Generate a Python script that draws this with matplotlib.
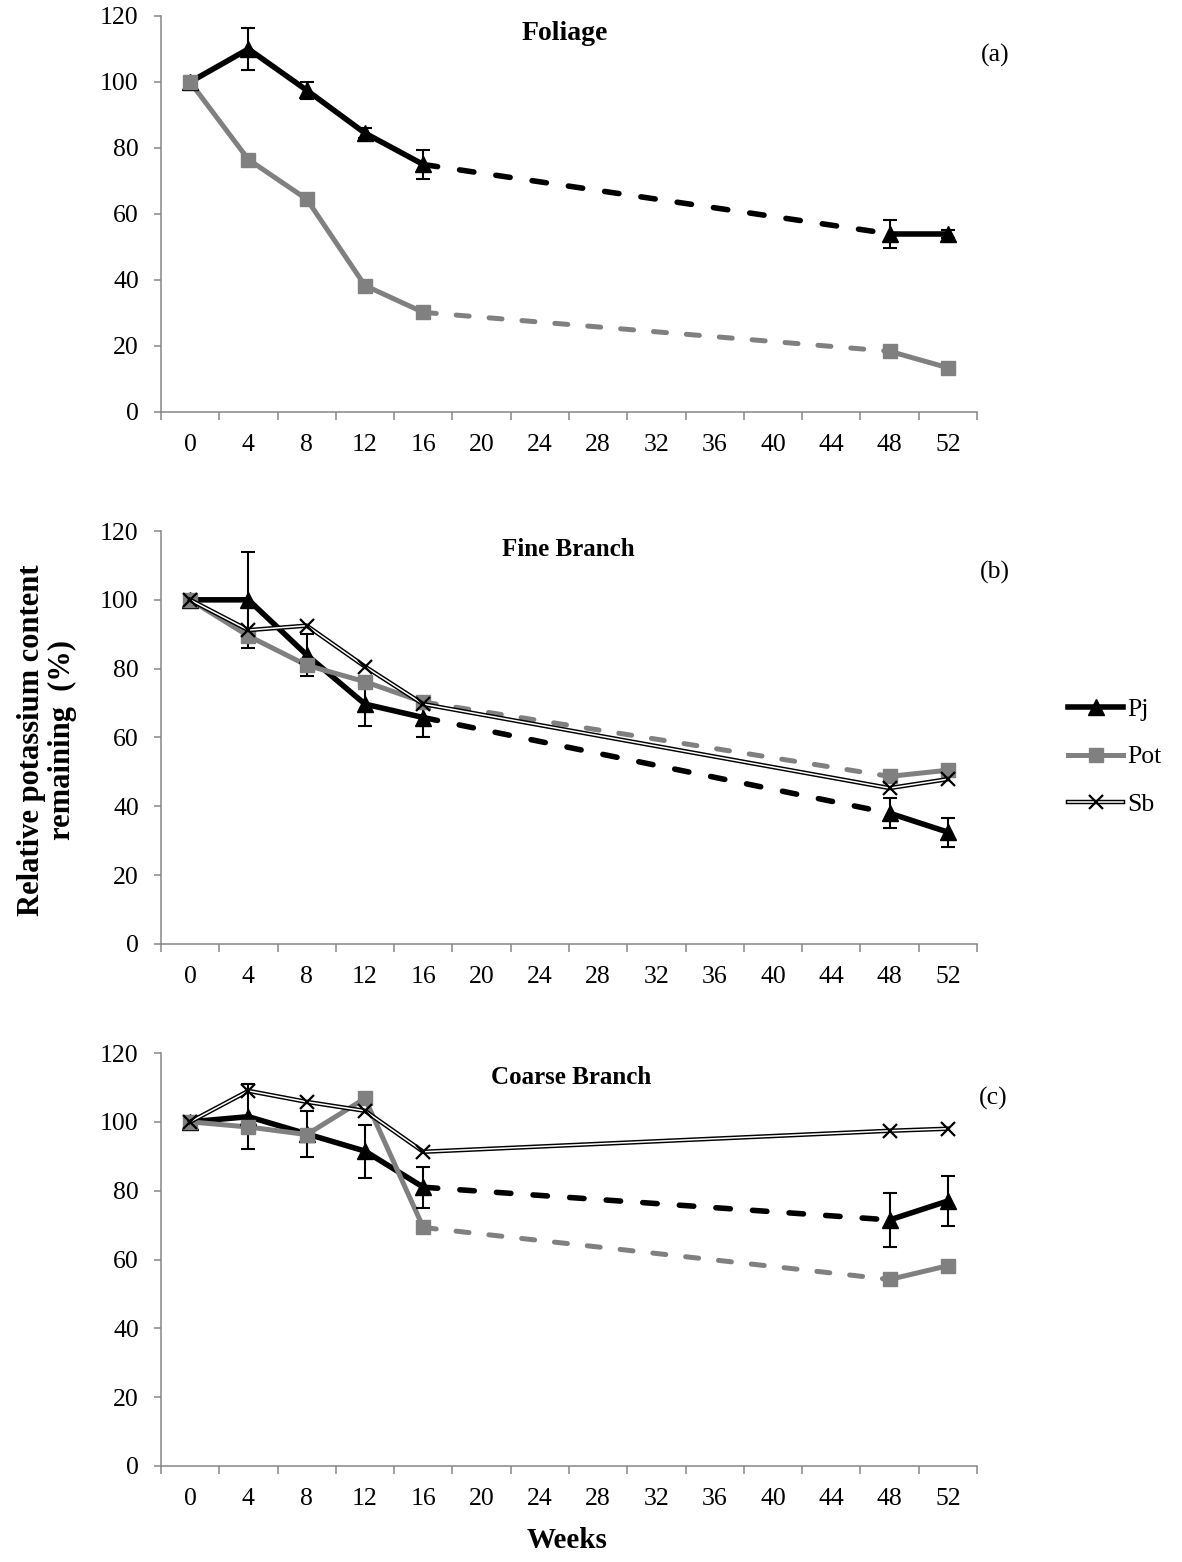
import numpy as np
import matplotlib
matplotlib.use("Agg")
import matplotlib.pyplot as plt
from matplotlib.lines import Line2D

plt.rcParams['font.family'] = ['Liberation Serif', 'DejaVu Serif']

# sampling weeks and category labels of the x axis
weeks = [0, 4, 8, 12, 16, 48, 52]
cat_labels = [0, 4, 8, 12, 16, 20, 24, 28, 32, 36, 40, 44, 48, 52]

# (a) Foliage
fol_pj = [100, 110, 97.5, 84.5, 75, 54, 54]
fol_pj_err = [0, 6.3, 2.6, 1.5, 4.5, 4.2, 1.2]
fol_pot = [100, 76.5, 64.5, 38.3, 30.2, 18.4, 13.4]

# (b) Fine branch
fine_pj = [100, 100, 84, 69.7, 65.8, 38, 32.5]
fine_pj_err = [0, 14, 6, 6.3, 5.6, 4.3, 4.2]
fine_pot = [100, 89.5, 81, 76.2, 70.3, 48.7, 50.5]
fine_sb = [100, 91.2, 92.5, 80.6, 69.7, 45.3, 47.9]

# (c) Coarse branch
coarse_pj = [100, 101.5, 96.5, 91.5, 81, 71.5, 77]
coarse_pj_err = [0, 9.5, 6.7, 7.7, 6, 7.8, 7.2]
coarse_pot = [100, 98.5, 96.3, 106.8, 69.3, 54.2, 58.2]
coarse_sb = [100, 109, 105.8, 103.2, 91.3, 97.4, 98]

GRAY = '#808080'
AXGRAY = '#868686'
DASH = (0, (2.6, 4.0))


def draw_series(ax, y, color, lw, marker, ms, err=None):
    w = np.array(weeks)
    y = np.array(y)
    # solid until week 16, dashed gap to week 48, solid after
    ax.plot(w[:5], y[:5], color=color, lw=lw, solid_capstyle='round', zorder=3)
    ax.plot(w[4:6], y[4:6], color=color, lw=lw, linestyle=DASH,
            dash_capstyle='round', zorder=3)
    ax.plot(w[5:], y[5:], color=color, lw=lw, solid_capstyle='round', zorder=3)
    if err is not None:
        e = np.array(err)
        m = e > 0
        ax.errorbar(w[m], y[m], yerr=e[m], fmt='none', ecolor='black',
                    elinewidth=1.5, capsize=5, capthick=1.5, zorder=4)
    ax.plot(w, y, linestyle='none', marker=marker, ms=ms, color=color,
            mec=color, zorder=5)


def draw_sb(ax, y):
    ax.plot(weeks, y, color='black', lw=3.2, zorder=6)
    ax.plot(weeks, y, color='white', lw=1.1, zorder=6)
    ax.plot(weeks, y, linestyle='none', marker='x', ms=10, mew=1.6,
            color='black', zorder=7)


def style_axis(ax):
    ax.set_xlim(-2, 54)
    ax.set_ylim(0, 120)
    ax.set_xticks(np.arange(-2, 55, 4))
    ax.set_xticks(cat_labels, minor=True)
    ax.set_xticklabels([str(c) for c in cat_labels], minor=True)
    ax.tick_params(axis='x', which='major', length=6, width=1.1,
                   color=AXGRAY, labelbottom=False, direction='out')
    ax.tick_params(axis='x', which='minor', length=0, pad=16, labelsize=18.5)
    ax.set_yticks(np.arange(0, 121, 20))
    ax.tick_params(axis='y', length=5, width=1.1, color=AXGRAY, pad=11,
                   labelsize=18.5, direction='out')
    for s in ['top', 'right']:
        ax.spines[s].set_visible(False)
    for s in ['left', 'bottom']:
        ax.spines[s].set_color(AXGRAY)
        ax.spines[s].set_linewidth(1.1)


fig = plt.figure(figsize=(11.82, 15.62), dpi=100)
left, width = 0.1362, 0.6904
ax_a = fig.add_axes([left, 0.73624, width, 0.25352])
ax_b = fig.add_axes([left, 0.39565, width, 0.26440])
ax_c = fig.add_axes([left, 0.06146, width, 0.26440])

draw_series(ax_a, fol_pj, 'black', 4, '^', 11, fol_pj_err)
draw_series(ax_a, fol_pot, GRAY, 3.6, 's', 10.5)

draw_series(ax_b, fine_pj, 'black', 4, '^', 11, fine_pj_err)
draw_series(ax_b, fine_pot, GRAY, 3.6, 's', 10.5)
draw_sb(ax_b, fine_sb)

draw_series(ax_c, coarse_pj, 'black', 4, '^', 11, coarse_pj_err)
draw_series(ax_c, coarse_pot, GRAY, 3.6, 's', 10.5)
draw_sb(ax_c, coarse_sb)

for ax in (ax_a, ax_b, ax_c):
    style_axis(ax)

fig.text(565 / 1182, 1 - 33 / 1562, 'Foliage', fontsize=20, fontweight='bold',
         ha='center', va='center')
fig.text(568 / 1182, 1 - 549 / 1562, 'Fine Branch', fontsize=18,
         fontweight='bold', ha='center', va='center')
fig.text(571 / 1182, 1 - 1078 / 1562, 'Coarse Branch', fontsize=18,
         fontweight='bold', ha='center', va='center')

fig.text(995 / 1182, 1 - 55 / 1562, '(a)', fontsize=18.5, ha='center', va='center')
fig.text(995 / 1182, 1 - 572 / 1562, '(b)', fontsize=18.5, ha='center', va='center')
fig.text(993 / 1182, 1 - 1098 / 1562, '(c)', fontsize=18.5, ha='center', va='center')

fig.text(47 / 1182, 1 - 740 / 1562, 'Relative potassium content\nremaining  (%)',
         rotation=90, fontsize=22, fontweight='bold', ha='center', va='center',
         multialignment='center', linespacing=1.1)
fig.text(567 / 1182, 1 - 1541 / 1562, 'Weeks', fontsize=21, fontweight='bold',
         ha='center', va='center')

h_pj = Line2D([], [], color='black', lw=4, marker='^', ms=11)
h_pot = Line2D([], [], color=GRAY, lw=3.6, marker='s', ms=10.5)
h_sb = (Line2D([], [], color='black', lw=3.2),
        Line2D([], [], color='white', lw=1.1),
        Line2D([], [], linestyle='none', marker='x', ms=10, mew=1.6, color='black'))
fig.legend([h_pj, h_pot, h_sb], ['Pj', 'Pot', 'Sb'], loc='center left',
           bbox_to_anchor=(1068 / 1182, 1 - 757 / 1562), frameon=False,
           fontsize=18.5, handlelength=2.15, handletextpad=0.15,
           labelspacing=0.95, borderpad=0, borderaxespad=0)

fig.savefig('out.png', dpi=100)
